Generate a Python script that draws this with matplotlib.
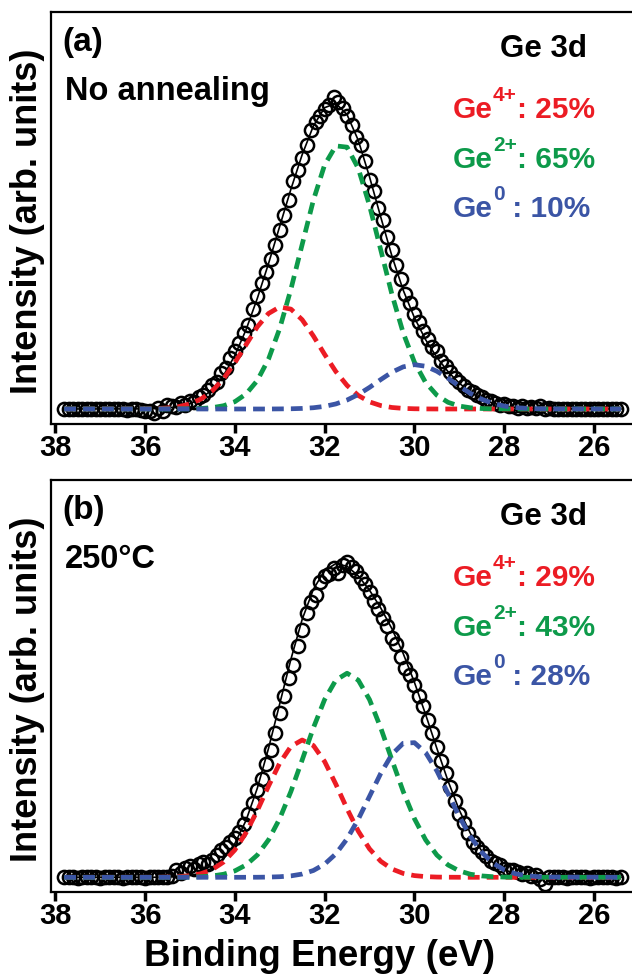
import numpy as np
import matplotlib
matplotlib.use('Agg')
import matplotlib.pyplot as plt

plt.rcParams['font.family'] = ['Liberation Sans', 'DejaVu Sans']
plt.rcParams['font.weight'] = 'bold'

# binding energy grid of the measured points (eV)
be = [37.8, 37.7, 37.6, 37.5, 37.4, 37.3, 37.2, 37.1, 37.0, 36.9,
      36.8, 36.7, 36.6, 36.5, 36.4, 36.3, 36.2, 36.1, 36.0, 35.9,
      35.8, 35.7, 35.6, 35.5, 35.4, 35.3, 35.2, 35.1, 35.0, 34.9,
      34.8, 34.7, 34.6, 34.5, 34.4, 34.3, 34.2, 34.1, 34.0, 33.9,
      33.8, 33.7, 33.6, 33.5, 33.4, 33.3, 33.2, 33.1, 33.0, 32.9,
      32.8, 32.7, 32.6, 32.5, 32.4, 32.3, 32.2, 32.1, 32.0, 31.9,
      31.8, 31.7, 31.6, 31.5, 31.4, 31.3, 31.2, 31.1, 31.0, 30.9,
      30.8, 30.7, 30.6, 30.5, 30.4, 30.3, 30.2, 30.1, 30.0, 29.9,
      29.8, 29.7, 29.6, 29.5, 29.4, 29.3, 29.2, 29.1, 29.0, 28.9,
      28.8, 28.7, 28.6, 28.5, 28.4, 28.3, 28.2, 28.1, 28.0, 27.9,
      27.8, 27.7, 27.6, 27.5, 27.4, 27.3, 27.2, 27.1, 27.0, 26.9,
      26.8, 26.7, 26.6, 26.5, 26.4, 26.3, 26.2, 26.1, 26.0, 25.9,
      25.8, 25.7, 25.6, 25.5, 25.4]

# (a) no annealing - measured intensity (arb.)
meas_a = [0.0, 0.1, -0.1, 0.0, 0.1, 0.0, -0.1, 0.0, 0.1, 0.0,
          -0.1, 0.0, 0.1, 0.0, -0.2, 0.1, 0.0, -0.3, -0.5, -0.8,
          -1.2, 0.3, -0.6, 1.2, 0.9, 0.6, 1.8, 1.4, 2.6, 2.2,
          3.8, 4.4, 6.0, 7.6, 8.5, 11.5, 13.0, 16.2, 18.6, 21.2,
          24.5, 26.8, 32.0, 36.2, 40.5, 44.0, 48.0, 52.5, 57.5, 62.0,
          67.0, 73.0, 76.5, 80.5, 84.5, 89.5, 92.0, 94.0, 96.0, 97.5,
          100.0, 98.5, 96.5, 94.0, 91.0, 87.0, 84.5, 79.5, 73.5, 70.0,
          64.5, 60.5, 55.0, 51.0, 46.0, 41.5, 37.0, 34.0, 30.5, 28.0,
          25.0, 22.5, 20.0, 18.5, 15.5, 13.8, 12.0, 10.0, 8.5, 7.4,
          6.2, 5.4, 4.5, 3.9, 2.8, 2.5, 2.0, 1.2, 1.6, 0.8,
          1.1, 0.4, 0.9, 0.3, 0.6, 0.2, 1.0, 0.0, 0.2, 0.0,
          0.1, -0.1, 0.0, 0.1, 0.0, -0.1, 0.0, 0.1, 0.0, 0.0,
          0.1, 0.0, -0.1, 0.0, 0.0]

# (b) 250 C - measured intensity (arb.)
meas_b = [0.0, 0.1, 0.0, -0.1, 0.0, 0.1, 0.0, 0.0, -0.1, 0.1,
          0.0, 0.0, 0.1, -0.1, 0.0, 0.1, 0.0, 0.0, -0.1, 0.1,
          0.0, 0.0, 0.1, 0.2, 0.3, 2.4, 1.5, 3.0, 3.6, 2.6,
          4.2, 4.8, 4.2, 5.6, 7.2, 8.8, 9.6, 11.5, 12.8, 14.5,
          17.2, 20.5, 24.0, 28.0, 31.5, 36.5, 41.0, 46.5, 53.0, 58.5,
          64.0, 68.5, 74.5, 79.5, 85.0, 88.5, 91.0, 95.0, 97.0, 97.5,
          99.5, 98.0, 100.5, 101.5, 100.0, 98.5, 96.5, 94.5, 92.0, 89.0,
          86.5, 83.5, 81.0, 77.0, 75.0, 71.0, 67.5, 65.0, 62.0, 58.5,
          55.0, 50.5, 46.5, 42.0, 37.5, 33.5, 29.0, 24.5, 20.5, 17.5,
          14.2, 11.5, 9.8, 8.2, 6.8, 5.4, 4.6, 4.0, 2.8, 2.2,
          2.5, 1.8, 1.2, 1.4, 0.5, 0.8, -0.6, -2.0, 0.1, 0.0,
          0.1, 0.0, -0.1, 0.0, 0.1, 0.0, 0.0, -0.1, 0.1, 0.0,
          0.0, 0.1, 0.0, -0.1, 0.0]

# energy grid of the fitted curves (eV)
be_fit = [37.8, 36.0, 35.75, 35.5, 35.25, 35.0, 34.75, 34.5, 34.25, 34.0,
          33.75, 33.5, 33.25, 33.0, 32.75, 32.5, 32.25, 32.0, 31.75, 31.5,
          31.25, 31.0, 30.75, 30.5, 30.25, 30.0, 29.75, 29.5, 29.25, 29.0,
          28.75, 28.5, 28.25, 28.0, 27.75, 27.5, 27.25, 27.0, 25.4]

# (a) fitted components
ge4_a = [0, 0.04, 0.12, 0.32, 0.75, 1.62, 3.22, 5.85, 9.72, 14.8,
         20.6, 26.3, 30.6, 32.7, 32.0, 28.6, 23.4, 17.5, 12.0, 7.55,
         4.33, 2.28, 1.10, 0.48, 0.19, 0.07, 0.02, 0, 0, 0,
         0, 0, 0, 0, 0, 0, 0, 0, 0]
ge2_a = [0, 0, 0, 0, 0.02, 0.06, 0.17, 0.43, 1.05, 2.33,
         4.80, 9.1, 15.95, 25.8, 38.4, 52.7, 66.9, 78.2, 84.3, 83.9,
         77.1, 65.2, 51.0, 36.7, 24.4, 15.0, 8.47, 4.42, 2.13, 0.94,
         0.39, 0.15, 0.05, 0.02, 0, 0, 0, 0, 0]
ge0_a = [0, 0, 0, 0, 0, 0, 0, 0, 0, 0,
         0, 0, 0, 0.03, 0.07, 0.18, 0.40, 0.84, 1.62, 2.87,
         4.65, 6.91, 9.42, 11.8, 13.5, 14.2, 13.7, 12.1, 9.82, 7.31,
         4.98, 3.12, 1.79, 0.94, 0.45, 0.20, 0.08, 0.03, 0]
env_a = [0, 0.04, 0.12, 0.32, 0.77, 1.68, 3.39, 6.28, 10.77, 17.13,
         25.4, 35.4, 46.55, 58.53, 70.47, 81.48, 90.7, 96.54, 97.92, 94.32,
         86.08, 74.39, 61.52, 48.98, 38.09, 29.27, 22.19, 16.52, 11.95, 8.25,
         5.37, 3.27, 1.84, 0.96, 0.45, 0.20, 0.08, 0.03, 0]

# (b) fitted components
ge4_b = [0, 0.01, 0.02, 0.07, 0.20, 0.51, 1.18, 2.52, 4.92, 8.78,
         14.35, 21.45, 29.35, 36.76, 42.13, 44.2, 42.43, 37.28, 29.98, 22.07,
         14.86, 9.16, 5.17, 2.67, 1.26, 0.55, 0.22, 0.08, 0.03, 0.01,
         0, 0, 0, 0, 0, 0, 0, 0, 0]
ge2_b = [0, 0, 0, 0.01, 0.03, 0.07, 0.19, 0.45, 0.99, 2.06,
         3.97, 7.16, 12.04, 18.89, 27.65, 37.76, 48.11, 57.21, 63.47, 65.7,
         63.47, 57.21, 48.11, 37.76, 27.65, 18.89, 12.04, 7.16, 3.97, 2.06,
         0.99, 0.45, 0.19, 0.07, 0.03, 0.01, 0, 0, 0]
ge0_b = [0, 0, 0, 0, 0, 0, 0, 0, 0, 0,
         0.01, 0.02, 0.07, 0.19, 0.46, 1.05, 2.19, 4.24, 7.54, 12.37,
         18.7, 26.05, 33.44, 39.57, 43.14, 43.35, 40.15, 34.27, 26.96, 19.54,
         13.06, 8.04, 4.56, 2.39, 1.15, 0.51, 0.21, 0.08, 0]
env_b = [0, 0.01, 0.02, 0.08, 0.23, 0.58, 1.37, 2.97, 5.91, 10.84,
         18.33, 28.63, 41.46, 55.84, 70.24, 83.01, 92.73, 98.73, 100.99, 100.14,
         97.03, 92.42, 86.72, 80.0, 72.05, 62.79, 52.41, 41.51, 30.96, 21.61,
         14.05, 8.49, 4.75, 2.46, 1.18, 0.51, 0.21, 0.08, 0]

species = [('4+', ': '), ('2+', ': '), ('0', ' : ')]
pct_a = ['25%', '65%', '10%']
pct_b = ['29%', '43%', '28%']
xticks = [38, 36, 34, 32, 30, 28, 26]

RED, GREEN, BLUE = '#ec1c24', '#0d9a4a', '#3b55a5'

W, H = 632, 974
fig = plt.figure(figsize=(W / 100, H / 100), dpi=100)
renderer = fig.canvas.get_renderer()


def fx(px):
    return px / W


def fy(py):
    return 1 - py / H


def sup_label(x, y, sup, rest, color, size=21.5):
    # "Ge" + raised superscript + rest, laid out piece by piece
    t = fig.text(fx(x), fy(y), 'Ge', fontsize=size, color=color, va='baseline')
    x1 = t.get_window_extent(renderer).x1
    t2 = fig.text(x1 / W, fy(y - 17), sup, fontsize=size * 0.7, color=color,
                  va='baseline')
    x2 = t2.get_window_extent(renderer).x1
    fig.text(x2 / W, fy(y), rest, fontsize=size, color=color, va='baseline')


panels = [
    (12, 424, (-4.81, 127.2), meas_a, env_a, ge4_a, ge2_a, ge0_a, '(a)', 'No annealing', pct_a),
    (480, 892, (-4.73, 127.9), meas_b, env_b, ge4_b, ge2_b, ge0_b, '(b)', '250\u00b0C', pct_b),
]

for top, bot, ylim, meas, env, g4, g2, g0, tag, cond, pct in panels:
    ax = fig.add_axes([fx(51), fy(bot), fx(634) - fx(51), fy(top) - fy(bot)])
    ax.plot(be, meas, 'o', mfc='none', mec='k', ms=9.5, mew=1.8, zorder=2)
    ax.plot(be_fit, env, '-', color='k', lw=1.2, zorder=3)
    for comp, col in [(g4, RED), (g2, GREEN), (g0, BLUE)]:
        ax.plot(be_fit, comp, color=col, lw=3.4, ls=(0, (2.5, 1.5)), zorder=4)
    ax.set_xlim(38.094, 25.109)
    ax.set_ylim(*ylim)
    ax.set_xticks(xticks)
    ax.set_yticks([])
    ax.tick_params(axis='x', direction='out', length=6.5, width=2.5,
                   labelsize=21, pad=1)
    for lab in ax.get_xticklabels():
        lab.set_fontweight('bold')
    for sp in ax.spines.values():
        sp.set_linewidth(1.6)

    off = top - 12
    fig.text(fx(62), fy(51 + off), tag, fontsize=24, va='baseline')
    fig.text(fx(65), fy(100 + off), cond, fontsize=23.5, va='baseline')
    fig.text(fx(543), fy(57 + off), 'Ge 3d', fontsize=22.5, ha='center', va='baseline')
    for (sup, sep), p, col, yb in zip(species, pct, [RED, GREEN, BLUE], [118, 168, 217]):
        sup_label(453, yb + off, sup, sep + p, col)
    fig.text(fx(27.5), fy((top + bot) / 2 + 3), 'Intensity (arb. units)',
             rotation=90, fontsize=26, ha='center', va='center')

fig.text(fx(320), fy(966.5), 'Binding Energy (eV)', fontsize=26.5,
         ha='center', va='baseline')

fig.savefig('out.png', dpi=100)
